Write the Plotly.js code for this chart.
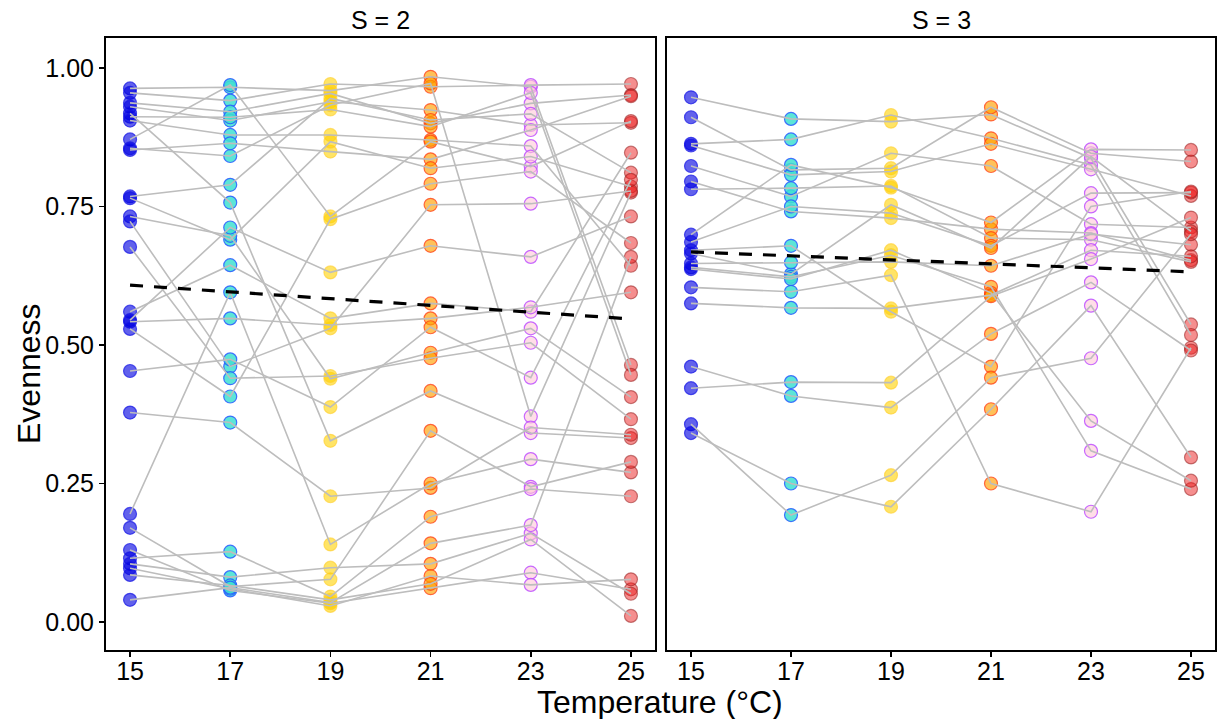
<!DOCTYPE html>
<html>
<head>
<meta charset="utf-8">
<script src="https://cdn.plot.ly/plotly-3.0.1.min.js"></script>
<style>html,body{margin:0;padding:0;background:#fff;}#chart{width:1219px;height:719px;}</style>
</head>
<body>
<div id="chart"></div>
<script>
// Temperatures (x categories)
const temps = [15, 17, 19, 21, 23, 25];
const tempTicks = ['15', '17', '19', '21', '23', '25'];
const panelTitles = ['S = 2', 'S = 3'];

// S = 2 : evenness per replicate (index = replicate) at each temperature
const s2_t15 = [0.963,0.955,0.937,0.930,0.918,0.912,0.905,0.871,0.855,0.852,0.768,0.765,0.732,0.723,0.677,0.560,0.545,0.542,0.529,0.453,0.378,0.195,0.170,0.130,0.115,0.105,0.097,0.085,0.040];
const s2_t17 = [0.965,0.941,0.921,0.905,0.757,0.911,0.879,0.969,0.841,0.864,0.789,0.690,0.697,0.461,0.440,0.644,0.712,0.548,0.407,0.474,0.360,0.595,0.064,0.057,0.127,0.081,0.060,0.066,0.062];
const s2_t19 = [0.959,0.971,0.954,0.939,0.327,0.925,0.879,0.732,0.933,0.849,0.945,0.867,0.439,0.530,0.444,0.548,0.631,0.536,0.727,0.388,0.227,0.140,0.077,0.034,0.046,0.098,0.029,0.040,0.035];
const s2_t21 = [0.984,0.966,0.900,0.924,0.417,0.894,0.870,0.867,0.972,0.835,0.906,0.819,0.486,0.753,0.476,0.575,0.679,0.548,0.791,0.532,0.242,0.250,0.345,0.061,0.190,0.105,0.083,0.069,0.142];
const s2_t23 = [0.966,0.969,0.936,0.897,0.341,0.955,0.859,0.822,0.371,0.888,0.917,0.840,0.530,0.755,0.504,0.560,0.659,0.568,0.813,0.441,0.351,0.294,0.244,0.089,0.240,0.160,0.067,0.149,0.175];
const s2_t25 = [0.464,0.971,0.951,0.901,0.332,0.446,0.643,0.904,0.775,0.949,0.811,0.786,0.406,0.778,0.366,0.847,0.732,0.595,0.684,0.798,0.338,0.270,0.289,0.059,0.227,0.051,0.077,0.011,0.659];

// S = 3
const s3_t15 = [0.947,0.911,0.863,0.860,0.823,0.795,0.781,0.699,0.686,0.671,0.665,0.647,0.640,0.637,0.604,0.575,0.461,0.422,0.357,0.341];
const s3_t17 = [0.908,0.816,0.871,0.807,0.768,0.741,0.783,0.825,0.750,0.679,0.628,0.649,0.623,0.619,0.596,0.567,0.408,0.433,0.193,0.250];
const s3_t19 = [0.903,0.819,0.915,0.813,0.846,0.729,0.787,0.784,0.738,0.560,0.753,0.650,0.662,0.671,0.626,0.566,0.387,0.432,0.265,0.208];
const s3_t21 = [0.916,0.929,0.873,0.863,0.823,0.709,0.693,0.721,0.679,0.461,0.675,0.643,0.605,0.594,0.250,0.590,0.520,0.588,0.441,0.384];
const s3_t23 = [0.837,0.846,0.825,0.817,0.718,0.702,0.690,0.853,0.774,0.750,0.840,0.700,0.309,0.363,0.199,0.671,0.613,0.655,0.476,0.571];
const s3_t25 = [0.537,0.831,0.518,0.769,0.712,0.653,0.650,0.852,0.775,0.777,0.705,0.681,0.240,0.255,0.495,0.660,0.490,0.730,0.700,0.297];

const trendX = [15, 25];
const trend_s2 = [0.608, 0.547];
const trend_s3 = [0.668, 0.632];

// Styles
const fills = ['rgba(0,0,225,0.62)','rgba(64,224,208,0.85)','rgba(255,210,0,0.6)','rgba(255,160,0,0.65)','rgba(255,200,215,0.6)','rgba(235,30,30,0.5)'];
const edges = ['rgba(20,20,230,0.7)','rgba(40,90,255,0.85)','rgba(255,205,40,0.6)','rgba(255,60,20,0.75)','rgba(190,80,255,0.85)','rgba(150,30,30,0.55)'];

const panels = [
  {cols: [s2_t15, s2_t17, s2_t19, s2_t21, s2_t23, s2_t25], trend: trend_s2, xa: 'x', ya: 'y'},
  {cols: [s3_t15, s3_t17, s3_t19, s3_t21, s3_t23, s3_t25], trend: trend_s3, xa: 'x2', ya: 'y2'}
];

const traces = [];
panels.forEach(p => {
  // points
  p.cols.forEach((col, j) => {
    traces.push({
      type: 'scatter', mode: 'markers', xaxis: p.xa, yaxis: p.ya,
      x: col.map(() => temps[j]), y: col,
      marker: {size: 13, color: fills[j], line: {color: edges[j], width: 1.2}},
      hoverinfo: 'x+y', showlegend: false
    });
  });
  // replicate lines
  const lx = [], ly = [];
  const n = p.cols[0].length;
  for (let i = 0; i < n; i++) {
    for (let j = 0; j < temps.length; j++) { lx.push(temps[j]); ly.push(p.cols[j][i]); }
    lx.push(null); ly.push(null);
  }
  traces.push({
    type: 'scatter', mode: 'lines', xaxis: p.xa, yaxis: p.ya,
    x: lx, y: ly, connectgaps: false,
    line: {color: '#bdbdbd', width: 1.6}, hoverinfo: 'skip', showlegend: false
  });
  // trend
  traces.push({
    type: 'scatter', mode: 'lines', xaxis: p.xa, yaxis: p.ya,
    x: trendX, y: p.trend,
    line: {color: '#000', width: 3.2, dash: '13px,11px'}, hoverinfo: 'skip', showlegend: false
  });
});

const W = 1219, H = 719;
const FONT = 'Liberation Sans, Arial, sans-serif';
const tickFont = {family: FONT, size: 25, color: '#000'};
const xBase = {
  range: [14.52, 25.48], tickvals: temps, ticktext: tempTicks,
  showgrid: false, zeroline: false, showline: true, mirror: true,
  linecolor: '#000', linewidth: 2, ticks: 'outside', ticklen: 5, tickwidth: 1.5, tickcolor: '#000',
  tickfont: tickFont, ticklabelstandoff: -7, fixedrange: true
};
const yBase = {
  range: [-0.0505, 1.054], tickvals: [0, 0.25, 0.5, 0.75, 1], ticktext: ['0.00','0.25','0.50','0.75','1.00'],
  showgrid: false, zeroline: false, showline: true, mirror: true,
  linecolor: '#000', linewidth: 2, ticks: 'outside', ticklen: 5, tickwidth: 1.5, tickcolor: '#000',
  tickfont: tickFont, domain: [69 / H, 681 / H], fixedrange: true
};

const layout = {
  width: W, height: H,
  margin: {l: 0, r: 0, t: 0, b: 0},
  paper_bgcolor: '#fff', plot_bgcolor: '#fff',
  showlegend: false,
  xaxis: Object.assign({}, xBase, {domain: [106 / W, 655 / W], anchor: 'y'}),
  xaxis2: Object.assign({}, xBase, {domain: [667 / W, 1215 / W], anchor: 'y2'}),
  yaxis: Object.assign({}, yBase, {anchor: 'x'}),
  yaxis2: Object.assign({}, yBase, {anchor: 'x2', matches: 'y', showticklabels: false, ticks: ''}),
  annotations: [
    {text: panelTitles[0], xref: 'paper', yref: 'paper', x: 381 / W, y: 1 - 20 / H, showarrow: false,
     font: {family: FONT, size: 25, color: '#000'}, xanchor: 'center', yanchor: 'middle'},
    {text: panelTitles[1], xref: 'paper', yref: 'paper', x: 941 / W, y: 1 - 20 / H, showarrow: false,
     font: {family: FONT, size: 25, color: '#000'}, xanchor: 'center', yanchor: 'middle'},
    {text: 'Evenness', xref: 'paper', yref: 'paper', x: 29 / W, y: 1 - 374 / H, showarrow: false, textangle: -90,
     font: {family: FONT, size: 32, color: '#000'}, xanchor: 'center', yanchor: 'middle'},
    {text: 'Temperature (°C)', xref: 'paper', yref: 'paper', x: 660 / W, y: 1 - 702 / H, showarrow: false,
     font: {family: FONT, size: 32, color: '#000'}, xanchor: 'center', yanchor: 'middle'}
  ]
};

Plotly.newPlot('chart', traces, layout, {displayModeBar: false, staticPlot: true});
</script>
</body>
</html>
